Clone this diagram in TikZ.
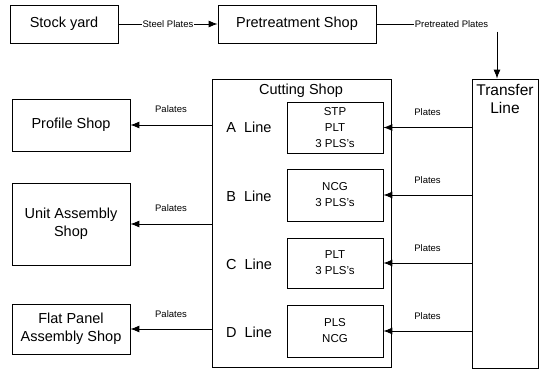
\documentclass[tikz,border=0pt]{standalone}
\usepackage{fontspec}
\setmainfont{Liberation Sans}
\usetikzlibrary{arrows.meta}
\begin{document}
\begin{tikzpicture}[x=1pt,y=-1pt,
  box/.style={draw, line width=0.8pt, inner sep=0pt, align=center, font=\fontsize{14.5}{18}\selectfont},
  ibox/.style={draw, line width=0.8pt, inner sep=0pt, align=center, minimum width=96pt, font=\fontsize{11.5}{16}\selectfont},
  big/.style={font=\fontsize{14.5}{18}\selectfont, inner sep=0pt, align=center},
  lab/.style={font=\fontsize{9.5}{11}\selectfont, inner sep=1pt},
  arr/.style={draw, line width=0.9pt, -{Latex[length=9pt,width=7pt]}},
  con/.style={draw, line width=0.9pt}
]
\useasboundingbox (0,0) rectangle (543,370);

% top row
\node[box, minimum width=108pt, minimum height=38pt] (stock) at (64,24) {Stock yard};
\node[box, minimum width=158pt, minimum height=38pt] (pre) at (297,24) {Pretreatment Shop};

% left shops
\node[box, minimum width=118pt, minimum height=52pt] (prof) at (71,125) {Profile Shop};
\node[box, minimum width=118pt, minimum height=82pt] (unit) at (71,224) {Unit Assembly\\Shop};
\node[box, minimum width=118pt, minimum height=50pt] (flat) at (71,329) {Flat Panel\\Assembly Shop};

% cutting shop
\node[draw, line width=0.8pt, minimum width=179pt, minimum height=288pt, inner sep=0pt] (cut) at (301.5,223) {};
\node[big] (cuttitle) at (301,91) {Cutting Shop};
\node[big] (la) at (249,127) {A\ \ Line};
\node[big] (lb) at (249,196) {B\ \ Line};
\node[big] (lc) at (249,264) {C\ \ Line};
\node[big] (ld) at (249,332) {D\ \ Line};

\node[ibox, minimum height=51pt] (A) at (335,127.5) {STP\\PLT\\3 PLS's};
\node[ibox, minimum height=52pt] (B) at (335,195) {NCG\\3 PLS's};
\node[ibox, minimum height=50pt] (C) at (335,263) {PLT\\3 PLS's};
\node[ibox, minimum height=52pt] (D) at (335,331) {PLS\\NCG};

% transfer line
\node[draw, line width=0.8pt, minimum width=66pt, minimum height=289pt, inner sep=0pt] (tl) at (505,223.5) {};
\node[font=\fontsize{15.5}{18}\selectfont, align=center, inner sep=0pt] (tltext) at (505,99) {Transfer\\Line};

% top connectors
\draw[arr] (stock.east) -- node[lab, fill=white] (sp) {Steel Plates} (pre.west);
\node[lab] (pp) at (451.5,24) {Pretreated Plates};
\coordinate (tlin) at ([xshift=-8pt]tl.north);
\draw[con] (pre.east) -- (pp.west);
\draw[arr] ([yshift=-3pt]tlin |- pp.south) -- (tlin);

% plates arrows
\foreach \n in {A,B,C,D}{
  \draw[arr] (tl.west |- \n.east) -- node[lab, yshift=15pt] {Plates} (\n.east);
}

% palates arrows
\draw[arr] (cut.west |- prof.east) -- node[lab, yshift=16pt] {Palates} (prof.east);
\draw[arr] (cut.west |- unit.east) -- node[lab, yshift=16pt] {Palates} (unit.east);
\draw[arr] (cut.west |- flat.east) -- node[lab, yshift=15pt] {Palates} (flat.east);
\end{tikzpicture}
\end{document}
